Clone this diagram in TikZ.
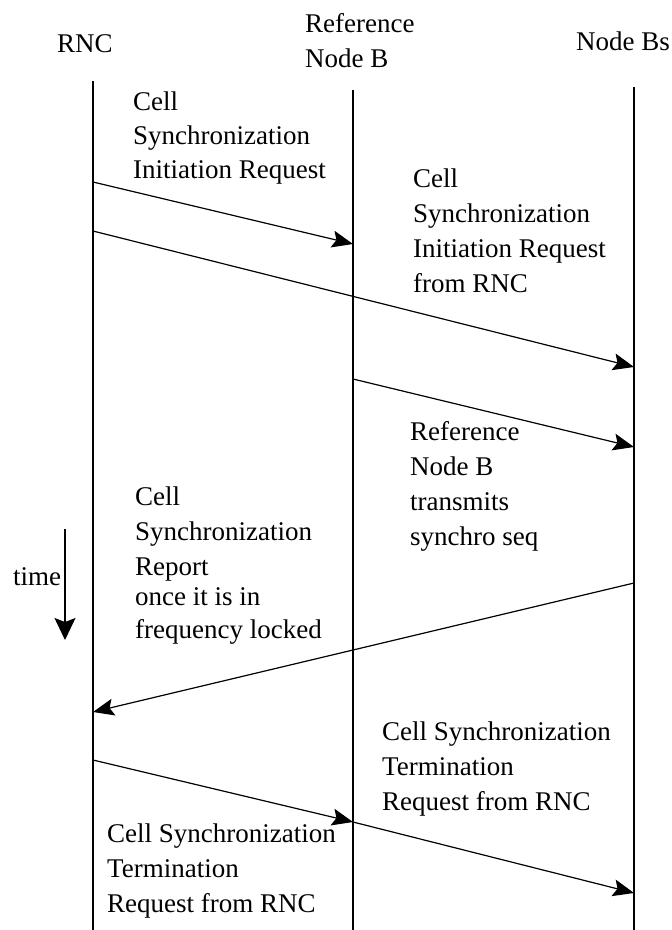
\documentclass[tikz,border=0pt]{standalone}
\usepackage{fontspec}
\setmainfont{Liberation Serif}
\usetikzlibrary{arrows.meta}
\begin{document}
\begin{tikzpicture}[x=1pt,y=-1pt,
  lifeline/.style={line width=1.7pt},
  msg/.style={line width=1.2pt,-{Stealth[length=21pt,width=17pt,inset=4pt]}},
  timearrow/.style={line width=1.3pt,-{Stealth[length=22pt,width=21pt,inset=4pt]}},
  txt/.style={inner sep=0pt,font=\fontsize{27}{34}\selectfont},
  lbl/.style={txt,anchor=base west}]
\useasboundingbox (0,0) rectangle (672,930);

% headers
\node[lbl] (hRNC) at (57,52) {RNC};
\node[lbl] (hRef1) at (305,32) {Reference};
\node[lbl] (hRef2) at (305,67) {Node B};
\node[txt,anchor=base east] (hBs) at (670,50) {Node Bs};

% lifelines
\coordinate (rncTop) at (93,81);   \coordinate (rncBot) at (93,930);
\coordinate (refTop) at (353,90);  \coordinate (refBot) at (353,930);
\coordinate (bsTop)  at (634,87);  \coordinate (bsBot)  at (634,930);
\draw[lifeline] (rncTop) -- (rncBot);
\draw[lifeline] (refTop) -- (refBot);
\draw[lifeline] (bsTop) -- (bsBot);

% message end points on the lifelines
\coordinate (r1) at (93,182);  \coordinate (f1) at (353,244);
\coordinate (r2) at (93,231);  \coordinate (b2) at (634,367);
\coordinate (f3) at (353,379); \coordinate (b3) at (634,447);
\coordinate (b4) at (634,583); \coordinate (r4) at (93,712);
\coordinate (r5) at (93,760);  \coordinate (f5) at (353,822);
\coordinate (b6) at (634,893);

\draw[msg] (r1) -- (f1);
\draw[msg] (r2) -- (b2);
\draw[msg] (f3) -- (b3);
\draw[msg] (b4) -- (r4);
\draw[msg] (r5) -- (f5);
\draw[msg] (f5) -- (b6);

% message labels
\node[lbl] (t1) at (133,110) {\begin{tabular}[t]{@{}l@{}}Cell\\Synchronization\\Initiation Request\end{tabular}};
\node[lbl] (t2) at (413,187) {\begin{tabular}[t]{@{}l@{}}Cell\\[1pt]Synchronization\\[1pt]Initiation Request\\[1pt]from RNC\end{tabular}};
\node[lbl] (t3) at (410,440) {\begin{tabular}[t]{@{}l@{}}Reference\\[1pt]Node B\\[1pt]transmits\\[1pt]synchro seq\end{tabular}};
\node[lbl] (t4) at (135,505) {\begin{tabular}[t]{@{}l@{}}Cell\\[1pt]Synchronization\\[1pt]Report\\[-4pt]once it is in\\[-1pt]frequency locked\end{tabular}};
\node[lbl] (t5) at (382,740) {\begin{tabular}[t]{@{}l@{}}Cell Synchronization\\[1pt]Termination\\[1pt]Request from RNC\end{tabular}};
\node[lbl] (t6) at (107,842) {\begin{tabular}[t]{@{}l@{}}Cell Synchronization\\[1pt]Termination\\[1pt]Request from RNC\end{tabular}};

% time axis
\coordinate (tTop) at (65,529);
\coordinate (tBot) at (65,640);
\draw[timearrow] (tTop) -- (tBot);
\node[lbl] (tlbl) at (13,585) {time};
\end{tikzpicture}
\end{document}
